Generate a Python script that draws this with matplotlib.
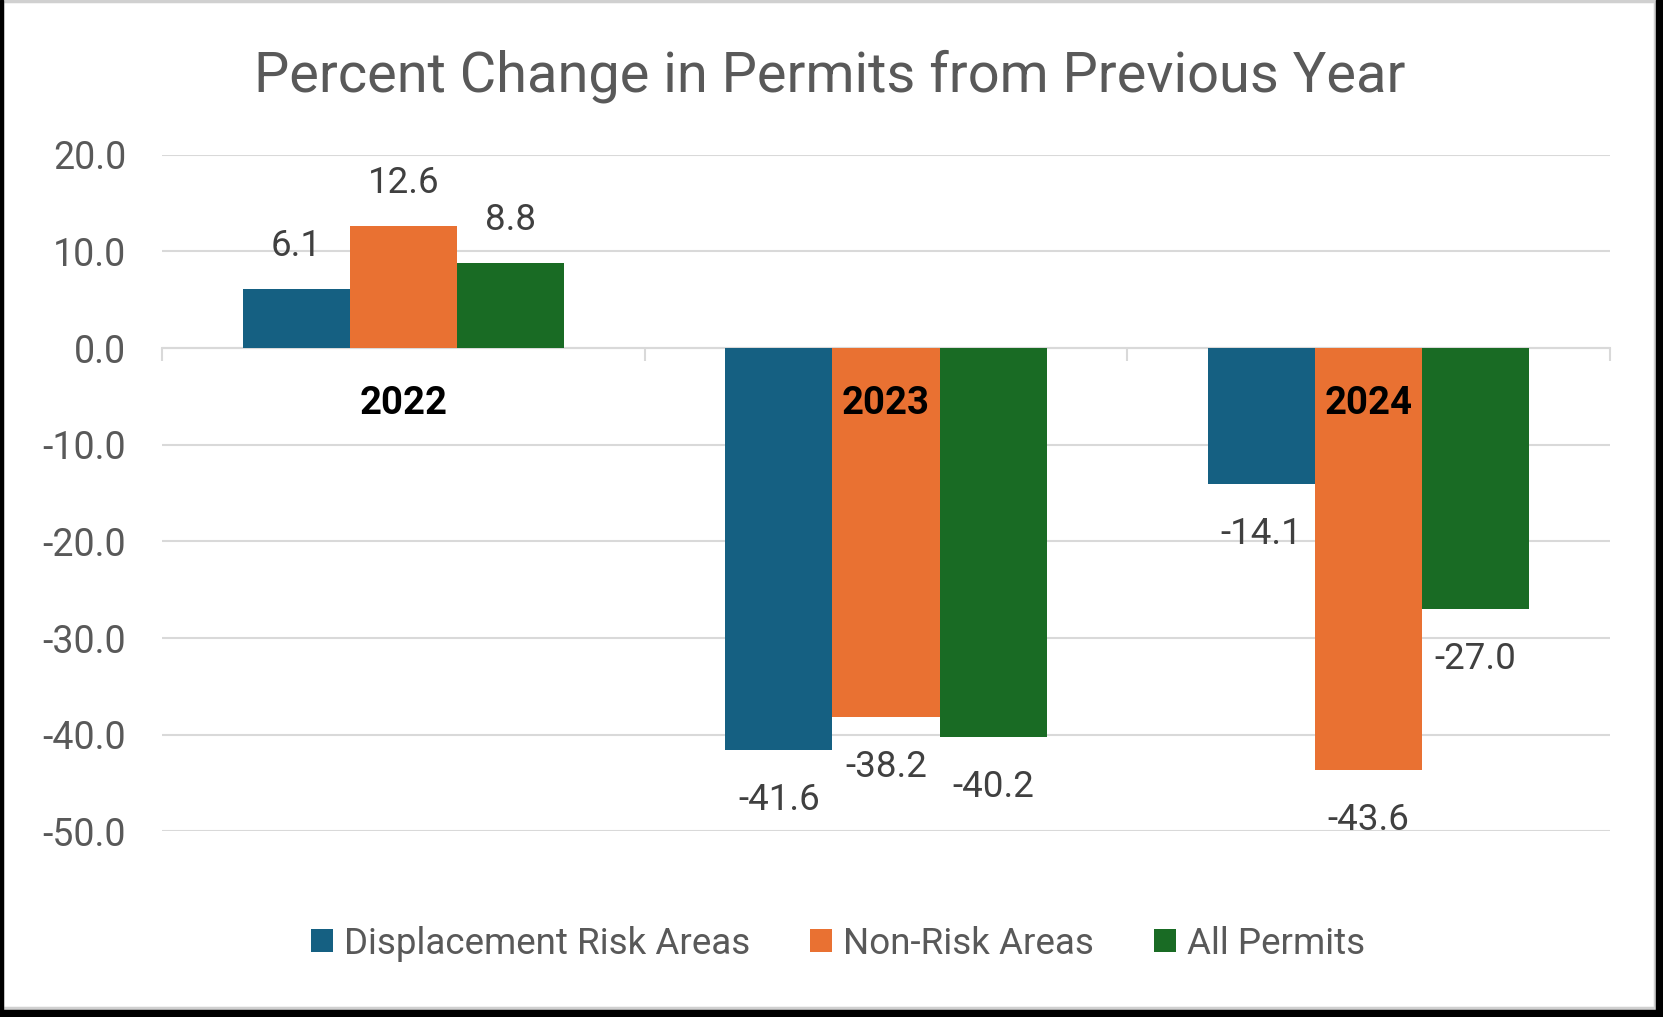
import matplotlib
matplotlib.use("Agg")
import matplotlib.pyplot as plt
from matplotlib.patches import Rectangle, Patch
import numpy as np

plt.rcParams["font.family"] = ["Roboto", "DejaVu Sans"]

# data
years = ["2022", "2023", "2024"]
series_names = ["Displacement Risk Areas", "Non-Risk Areas", "All Permits"]
displacement_risk = [6.1, -41.6, -14.1]
non_risk = [12.6, -38.2, -43.6]
all_permits = [8.8, -40.2, -27.0]
y_ticks = [20, 10, 0, -10, -20, -30, -40, -50]

colors = ["#156082", "#E97132", "#196B24"]
text_grey = "#595959"
label_grey = "#404040"
grid_grey = "#D9D9D9"

W, H = 1663, 1017
fig = plt.figure(figsize=(W / 100, H / 100), dpi=100)
fig.patch.set_facecolor("white")

ax = fig.add_axes([0.0976, 0.1824, 0.968 - 0.0976, 0.8478 - 0.1824])

x = np.arange(len(years))
bar_w = 1 / 4.5
values = [displacement_risk, non_risk, all_permits]
for i, (vals, col) in enumerate(zip(values, colors)):
    pos = x + (i - 1) * bar_w
    ax.bar(pos, vals, width=bar_w, color=col, zorder=3)
    for px, v in zip(pos, vals):
        off = 31 if v >= 0 else -36
        ax.annotate(f"{v:.1f}", xy=(px, v), xytext=(0, off), textcoords="offset points",
                    ha="center", va="center", fontsize=26.5, color=label_grey, zorder=4)

for xi, yr in zip(x, years):
    ax.annotate(yr, xy=(xi, 0), xytext=(0, -40), textcoords="offset points",
                ha="center", va="center", fontsize=27.5, fontweight="bold", color="black", zorder=5)

ax.set_xlim(-0.5, len(years) - 0.5)
ax.set_ylim(-50, 20)
ax.set_yticks(y_ticks)
ax.set_yticklabels([f"{t:.1f}" for t in y_ticks])
ax.tick_params(axis="y", length=0, labelsize=27, labelcolor=text_grey, pad=26)
ax.set_xticks(np.arange(len(years) + 1) - 0.5)
ax.set_xticklabels([])
ax.tick_params(axis="x", length=9, width=1.5, color=grid_grey, direction="out")
ax.xaxis.set_ticks_position("bottom")
ax.spines["bottom"].set_position(("data", 0))
ax.spines["bottom"].set_color(grid_grey)
ax.spines["bottom"].set_linewidth(1.5)
ax.spines["bottom"].set_zorder(2)
for s in ["top", "left", "right"]:
    ax.spines[s].set_visible(False)
ax.grid(axis="y", color=grid_grey, linewidth=1.5, zorder=0)
ax.set_axisbelow(True)

fig.text(0.499, 0.925, "Percent Change in Permits from Previous Year", ha="center", va="center",
         fontsize=40.3, color=text_grey)

handles = [Patch(facecolor=c, edgecolor="none") for c in colors]
fig.legend(handles, series_names, loc="center", bbox_to_anchor=(0.504, 0.072), ncol=3,
           frameon=False, fontsize=26.5, labelcolor=text_grey, handlelength=0.6, handleheight=0.6,
           handletextpad=0.3, columnspacing=1.63)

# frame around the picture
fig.patches.append(Rectangle((2 / W, 9 / H), 1 - 10 / W, 1 - 10 / H, transform=fig.transFigure,
                             fill=False, edgecolor="#D0D0D0", linewidth=2.5))
fig.patches.append(Rectangle((1 - 7 / W, 0), 7 / W, 1, transform=fig.transFigure, color="black"))
fig.patches.append(Rectangle((0, 0), 1, 7 / H, transform=fig.transFigure, color="black"))
fig.patches.append(Rectangle((0, 0), 3 / W, 1, transform=fig.transFigure, color="black"))

fig.savefig("out.png", dpi=100)
